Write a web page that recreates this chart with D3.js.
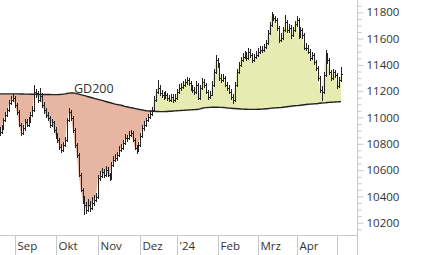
<!DOCTYPE html>
<html>
<head>
<meta charset="utf-8">
<script src="https://cdn.jsdelivr.net/npm/d3@7"></script>
<style>
  body { margin: 0; background: #fff; }
  svg { display: block; }
  text { font-family: "Open Sans", sans-serif; fill: #333; }
</style>
</head>
<body>
<div id="chart"></div>
<script>
// daily closes, highs, lows and the 200 day average (GD200)
let closes = [
  10890, 10920, 10980, 11020, 11055, 11110, 11135, 11150, 11095, 11040,
  10945, 10880, 10920, 10965, 10945, 10980, 11020, 11055, 11195, 11185,
  11135, 11165, 11095, 11055, 11020, 10995, 10945, 10965, 10905, 10865,
  10830, 10775, 10755, 10790, 10830, 10980, 11040, 10995, 10905, 10790,
  10715, 10565, 10450, 10375, 10335, 10295, 10335, 10310, 10350, 10375,
  10395, 10540, 10555, 10585, 10565, 10600, 10565, 10540, 10640, 10675,
  10690, 10715, 10755, 10770, 10805, 10845, 10845, 10865, 10880, 10830,
  10770, 10755, 10790, 10860, 10920, 10945, 10980, 11005, 11030, 11055,
  11135, 11195, 11225, 11185, 11170, 11155, 11170, 11150, 11135, 11155,
  11135, 11150, 11195, 11225, 11235, 11250, 11270, 11285, 11265, 11225,
  11210, 11195, 11250, 11150, 11225, 11270, 11250, 11195, 11155, 11170,
  11250, 11345, 11435, 11400, 11300, 11285, 11300, 11250, 11225, 11195,
  11155, 11135, 11250, 11345, 11400, 11435, 11460, 11475, 11450, 11500,
  11475, 11435, 11460, 11475, 11500, 11515, 11515, 11535, 11565, 11640,
  11705, 11780, 11755, 11740, 11680, 11590, 11605, 11665, 11725, 11665,
  11680, 11625, 11665, 11710, 11740, 11620, 11665, 11625, 11530, 11530,
  11500, 11450, 11475, 11420, 11375, 11300, 11210, 11195, 11320, 11475,
  11435, 11345, 11300, 11345, 11320, 11240, 11285, 11330
]

let highs = [
  10925, 10945, 11000, 11045, 11070, 11130, 11165, 11175, 11160, 11110,
  11055, 10960, 10940, 10990, 10985, 11005, 11040, 11085, 11245, 11215,
  11200, 11225, 11185, 11115, 11070, 11040, 11010, 10990, 10975, 10925,
  10880, 10845, 10795, 10810, 10850, 11000, 11070, 11055, 11010, 10920,
  10805, 10730, 10580, 10465, 10400, 10360, 10380, 10365, 10395, 10410,
  10425, 10560, 10590, 10615, 10605, 10630, 10620, 10580, 10660, 10705,
  10725, 10740, 10780, 10800, 10830, 10875, 10870, 10895, 10905, 10895,
  10845, 10790, 10815, 10880, 10945, 10970, 11000, 11030, 11055, 11080,
  11160, 11220, 11285, 11245, 11210, 11195, 11200, 11190, 11170, 11180,
  11175, 11175, 11220, 11255, 11265, 11280, 11295, 11310, 11300, 11280,
  11245, 11230, 11280, 11265, 11250, 11300, 11290, 11265, 11210, 11200,
  11275, 11370, 11475, 11450, 11415, 11330, 11330, 11315, 11270, 11245,
  11215, 11175, 11270, 11370, 11425, 11460, 11490, 11505, 11495, 11525,
  11520, 11490, 11485, 11505, 11525, 11540, 11545, 11560, 11590, 11665,
  11730, 11805, 11790, 11775, 11760, 11695, 11640, 11690, 11780, 11740,
  11710, 11700, 11690, 11735, 11770, 11755, 11690, 11680, 11640, 11565,
  11550, 11520, 11500, 11490, 11440, 11390, 11315, 11240, 11345, 11515,
  11490, 11450, 11360, 11370, 11365, 11335, 11310, 11385
]

let lows = [
  10860, 10875, 10905, 10965, 11005, 11040, 11095, 11120, 11075, 11020,
  10925, 10860, 10865, 10900, 10925, 10930, 10960, 11005, 11040, 11150,
  11110, 11120, 11075, 11030, 11000, 10970, 10920, 10930, 10885, 10840,
  10805, 10755, 10730, 10740, 10775, 10815, 10965, 10975, 10885, 10770,
  10695, 10545, 10430, 10345, 10260, 10265, 10280, 10285, 10300, 10330,
  10355, 10380, 10515, 10540, 10540, 10550, 10545, 10515, 10525, 10625,
  10660, 10670, 10700, 10735, 10755, 10790, 10815, 10830, 10850, 10810,
  10750, 10725, 10740, 10775, 10845, 10900, 10930, 10965, 10990, 11015,
  11040, 11120, 11180, 11165, 11145, 11130, 11140, 11125, 11115, 11120,
  11110, 11115, 11130, 11180, 11205, 11220, 11235, 11250, 11240, 11205,
  11185, 11170, 11180, 11130, 11135, 11210, 11225, 11175, 11135, 11140,
  11160, 11235, 11330, 11380, 11280, 11260, 11270, 11230, 11200, 11175,
  11135, 11105, 11120, 11235, 11330, 11385, 11420, 11445, 11430, 11435,
  11455, 11415, 11420, 11445, 11460, 11485, 11490, 11500, 11520, 11550,
  11625, 11690, 11735, 11715, 11660, 11570, 11575, 11590, 11650, 11640,
  11645, 11600, 11610, 11650, 11690, 11600, 11605, 11600, 11510, 11505,
  11480, 11430, 11435, 11400, 11355, 11280, 11185, 11125, 11180, 11305,
  11410, 11325, 11280, 11285, 11300, 11220, 11225, 11270
]

let gd200 = [
  11180, 11180, 11180, 11180, 11180, 11180, 11180, 11180, 11180, 11180,
  11180, 11179, 11179, 11178, 11178, 11178, 11177, 11177, 11177, 11176,
  11176, 11176, 11176, 11175, 11175, 11175, 11175, 11174, 11174, 11174,
  11174, 11175, 11176, 11178, 11180, 11183, 11185, 11186, 11186, 11185,
  11182, 11178, 11174, 11170, 11166, 11162, 11158, 11154, 11150, 11146,
  11142, 11138, 11134, 11130, 11126, 11122, 11118, 11114, 11110, 11106,
  11102, 11099, 11096, 11093, 11089, 11085, 11082, 11078, 11075, 11072,
  11069, 11066, 11063, 11060, 11057, 11054, 11051, 11050, 11049, 11048,
  11047, 11046, 11046, 11045, 11045, 11045, 11046, 11046, 11047, 11048,
  11049, 11050, 11051, 11052, 11053, 11054, 11055, 11056, 11057, 11058,
  11059, 11060, 11061, 11062, 11066, 11070, 11073, 11075, 11076, 11077,
  11078, 11078, 11078, 11078, 11077, 11077, 11076, 11075, 11072, 11071,
  11070, 11069, 11068, 11067, 11066, 11065, 11064, 11063, 11063, 11062,
  11062, 11062, 11062, 11062, 11063, 11063, 11064, 11065, 11066, 11067,
  11069, 11071, 11072, 11073, 11074, 11075, 11076, 11078, 11080, 11082,
  11084, 11086, 11088, 11089, 11090, 11091, 11093, 11095, 11097, 11099,
  11101, 11102, 11103, 11104, 11105, 11106, 11108, 11110, 11111, 11112,
  11114, 11115, 11116, 11117, 11118, 11119, 11120, 11121
]

// first trading day of each month (index into the series)
let monthLabels = ["Sep", "Okt", "Nov", "Dez", "'24", "Feb", "Mrz", "Apr", ""]
let monthStarts = [8, 29, 51, 73, 92, 113, 134, 154, 175]

let yTicks = [10200, 10400, 10600, 10800, 11000, 11200, 11400, 11600, 11800]
let yMinorTicks = [10150, 10250, 10300, 10350, 10450, 10500, 10550, 10650, 10700, 10750,
  10850, 10900, 10950, 11050, 11100, 11150, 11250, 11300, 11350, 11450, 11500, 11550,
  11650, 11700, 11750, 11850]

let width = 426,
    height = 255

let plotRight = 357.5,
    plotBottom = 235.5

let xScale = d3.scaleLinear()
    .domain([0, closes.length - 1])
    .range([-0.4, 341])

let yScale = d3.scaleLinear()
    .domain([10200, 11800])
    .range([222.7, 12.3])

let svg = d3.select("#chart")
    .append("svg")
    .attr("width", width)
    .attr("height", height)

let defs = svg.append("defs")

defs.append("clipPath").attr("id", "plot")
    .append("rect")
    .attr("x", 0).attr("y", 0)
    .attr("width", plotRight).attr("height", plotBottom)

// region above / below the GD200 line
defs.append("clipPath").attr("id", "above")
    .append("path")
    .attr("d", d3.area()
        .x(function (d, i) { return xScale(i) })
        .y0(0)
        .y1(function (d) { return yScale(d) })(gd200))

defs.append("clipPath").attr("id", "below")
    .append("path")
    .attr("d", d3.area()
        .x(function (d, i) { return xScale(i) })
        .y0(function (d) { return yScale(d) })
        .y1(height)(gd200))

let plot = svg.append("g").attr("clip-path", "url(#plot)")

let band = d3.area()
    .x(function (d, i) { return xScale(i) })
    .y0(function (d, i) { return yScale(gd200[i]) })
    .y1(function (d) { return yScale(d) })

plot.append("g").attr("clip-path", "url(#above)")
    .append("path")
    .attr("d", band(closes))
    .attr("fill", "#e6ebb2")

plot.append("g").attr("clip-path", "url(#below)")
    .append("path")
    .attr("d", band(closes))
    .attr("fill", "#e6b6a3")

// price bars: high-low line, open tick left, close tick right
let barPath = closes.map(function (c, i) {
    let bx = Math.round(xScale(i)) + 0.5
    let open = i > 0 ? closes[i - 1] : c
    let yo = Math.round(yScale(open)) + 0.5
    let yc = Math.round(yScale(c)) + 0.5
    return "M" + bx + "," + Math.round(yScale(highs[i])) +
        "V" + Math.round(yScale(lows[i])) +
        "M" + (bx - 1) + "," + yo + "H" + bx +
        "M" + bx + "," + yc + "H" + (bx + 1)
}).join("")

plot.append("path")
    .attr("d", barPath)
    .attr("fill", "none")
    .attr("stroke", "#222")
    .attr("stroke-width", 1)
    .attr("shape-rendering", "crispEdges")

plot.append("path")
    .attr("d", d3.line()
        .x(function (d, i) { return xScale(i) })
        .y(function (d) { return yScale(d) })(gd200))
    .attr("fill", "none")
    .attr("stroke", "#222")
    .attr("stroke-width", 1.4)

svg.append("text")
    .attr("x", 74)
    .attr("y", 93)
    .attr("font-size", 12.5)
    .text("GD200")

// frame lines
svg.append("line")
    .attr("x1", 0).attr("x2", plotRight)
    .attr("y1", plotBottom).attr("y2", plotBottom)
    .attr("stroke", "#c8c8c8")

svg.append("line")
    .attr("x1", plotRight).attr("x2", plotRight)
    .attr("y1", 0).attr("y2", height)
    .attr("stroke", "#c8c8c8")

// month separators and labels
let months = svg.append("g")
    .selectAll("g")
    .data(monthStarts)
    .enter()
    .append("g")
    .attr("transform", function (d) {
        return "translate(" + (Math.round(xScale(d)) + 0.5) + ",0)"
    })

months.append("line")
    .attr("y1", plotBottom).attr("y2", height)
    .attr("stroke", "#c8c8c8")

months.append("text")
    .attr("x", 2)
    .attr("y", 250)
    .attr("font-size", 11.5)
    .text(function (d, i) { return monthLabels[i] })

// y axis on the right
let yAxis = d3.axisRight(yScale)
    .tickValues(yTicks)
    .tickSize(6)
    .tickPadding(3)
    .tickFormat(d3.format("d"))

let yMinor = d3.axisRight(yScale)
    .tickValues(yMinorTicks)
    .tickSize(4)
    .tickFormat("")

let axisG = svg.append("g")
    .attr("transform", "translate(" + plotRight + ",0)")
    .call(yAxis)

svg.append("g")
    .attr("transform", "translate(" + plotRight + ",0)")
    .call(yMinor)

svg.selectAll(".domain").remove()
svg.selectAll(".tick line").attr("stroke", "#c8c8c8")
axisG.selectAll(".tick text")
    .attr("font-size", 11.5)
    .attr("font-family", "'Open Sans', sans-serif")
    .attr("fill", "#333")
</script>
</body>
</html>
